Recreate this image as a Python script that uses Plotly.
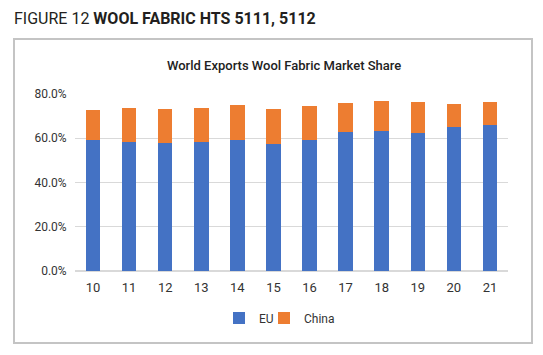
import plotly.graph_objects as go

years = ["10", "11", "12", "13", "14", "15", "16", "17", "18", "19", "20", "21"]
eu = [59.1, 58.5, 57.8, 58.1, 59.0, 57.6, 59.4, 63.0, 63.5, 62.6, 65.3, 66.1]
total = [72.8, 73.8, 73.3, 73.9, 75.2, 73.3, 74.8, 75.9, 76.8, 76.2, 75.4, 76.3]
china = [round(t - e, 1) for t, e in zip(total, eu)]

FONT = "Roboto, Liberation Sans, sans-serif"
W, H = 543, 355
L, R, T, B = 75, 35, 94, 84
pw, ph = W - L - R, H - T - B

def px(x):
    return (x - L) / pw

def py(y):
    return (H - B - y) / ph

fig = go.Figure()
fig.add_bar(x=years, y=eu, name="EU", marker=dict(color="#4472C4", line_width=0), legend="legend")
fig.add_bar(x=years, y=china, name="China", marker=dict(color="#ED7D31", line_width=0), legend="legend2")

leg_common = dict(orientation="h", yanchor="middle", xanchor="left", bgcolor="rgba(0,0,0,0)",
                  font=dict(size=12, color="#333333", family=FONT), itemwidth=30)

fig.update_layout(
    width=W, height=H,
    barmode="stack", bargap=0.6,
    margin=dict(l=L, r=R, t=T, b=B),
    paper_bgcolor="white", plot_bgcolor="white",
    font=dict(family=FONT, color="#333333", size=12),
    showlegend=True,
    legend=dict(leg_common, x=px(219), y=py(318)),
    legend2=dict(leg_common, x=px(264), y=py(318)),
    xaxis=dict(showgrid=False, showline=False, ticks="outside", ticklen=4, tickcolor="white",
               tickfont=dict(size=13, color="#333333")),
    yaxis=dict(range=[0, 80], dtick=20, tickformat=".1f", ticksuffix="%", showgrid=True,
               gridcolor="#d9d9d9", gridwidth=1, zeroline=True, zerolinecolor="#d9d9d9",
               ticks="outside", ticklen=5, tickcolor="white",
               tickfont=dict(size=12, color="#333333")),
    shapes=[dict(type="rect", xref="paper", yref="paper", x0=px(14), x1=px(532), y0=py(343), y1=py(39),
                 line=dict(color="#c4c4c4", width=2), fillcolor="rgba(0,0,0,0)", layer="below")],
    annotations=[
        dict(text="FIGURE 12 <b>WOOL FABRIC HTS 5111, 5112</b>", xref="paper", yref="paper",
             x=px(12), y=py(18), xanchor="left", yanchor="middle", showarrow=False,
             font=dict(size=16, color="#231f20", family=FONT)),
        dict(text="World Exports Wool Fabric Market Share", xref="paper", yref="paper",
             x=px(284), y=py(65), xanchor="center", yanchor="middle", showarrow=False,
             font=dict(size=13, color="#222222", family=FONT, weight=500)),
    ],
)

fig.write_html("out.html")
